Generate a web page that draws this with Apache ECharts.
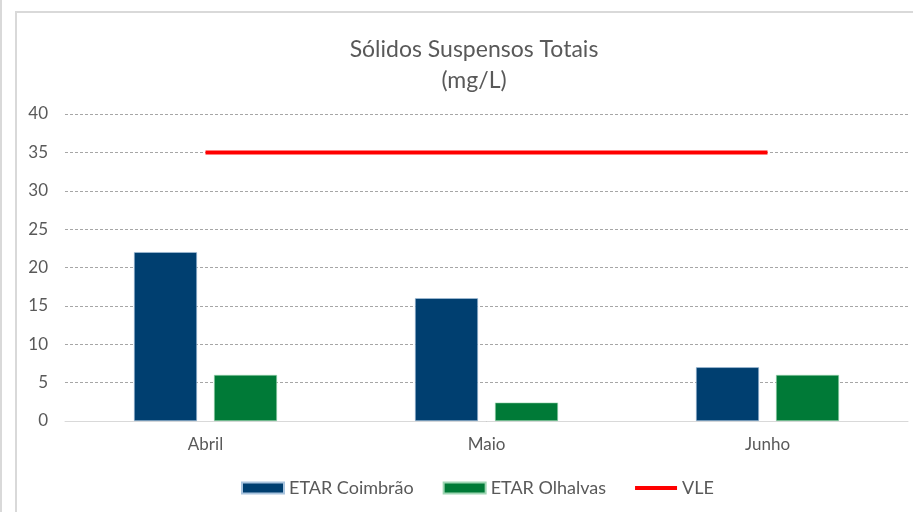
<!DOCTYPE html>
<html>
<head>
<meta charset="utf-8">
<title>Sólidos Suspensos Totais</title>
<script src="https://cdn.jsdelivr.net/npm/echarts@6/dist/echarts.min.js"></script>
<style>
  html, body { margin: 0; padding: 0; background: #fff; }
  #main { width: 913px; height: 512px; }
</style>
</head>
<body>
<div id="main"></div>
<script type="text/javascript">
// dados do grafico
var meses = ['Abril', 'Maio', 'Junho'];
var coimbrao = [22, 16, 7];
var olhalvas = [6, 2.4, 6];
var vle = [35, 35, 35];
var yTicks = [0, 5, 10, 15, 20, 25, 30, 35, 40];

var myChart = echarts.init(document.getElementById('main'));
var fonte = 'Lato, "Open Sans", sans-serif';
var cinza = '#595959';

var option = {
    backgroundColor: '#fff',
    animation: false,
    graphic: [
        // moldura da area do grafico
        { type: 'line', shape: { x1: 1, y1: 0, x2: 1, y2: 512 }, style: { stroke: '#d9d9d9', lineWidth: 2 } },
        { type: 'polyline', shape: { points: [[16, 512], [16, 12], [913, 12]] }, style: { stroke: '#d9d9d9', lineWidth: 2, fill: null } }
    ],
    title: {
        text: 'Sólidos Suspensos Totais\n(mg/L)',
        left: 469,
        textAlign: 'center',
        top: 29,
        textStyle: { fontFamily: fonte, fontSize: 23, fontWeight: 'normal', color: cinza, lineHeight: 31 }
    },
    legend: {
        top: 474,
        left: 236,
        itemGap: 29,
        itemWidth: 42,
        itemHeight: 11,
        textStyle: { fontFamily: fonte, fontSize: 18, color: cinza },
        data: [
            { name: 'ETAR Coimbrão', icon: 'rect' },
            { name: 'ETAR Olhalvas', icon: 'rect' },
            { name: 'VLE', icon: 'path://M0 0 H42 V4 H0 Z' }
        ]
    },
    grid: { left: 65, right: 5, top: 114, bottom: 91 },
    xAxis: {
        type: 'category',
        data: meses,
        axisLine: { lineStyle: { color: '#d9d9d9', width: 1 } },
        axisTick: { show: false },
        axisLabel: { fontFamily: fonte, fontSize: 17, color: cinza, margin: 15 }
    },
    yAxis: {
        type: 'value',
        min: yTicks[0],
        max: yTicks[yTicks.length - 1],
        interval: 5,
        axisLine: { show: false },
        axisTick: { show: false },
        axisLabel: { fontFamily: fonte, fontSize: 17, color: cinza, margin: 17 },
        splitLine: { lineStyle: { color: '#a6a6a6', type: [3, 2], width: 1 } }
    },
    series: [
        {
            name: 'ETAR Coimbrão',
            type: 'bar',
            data: coimbrao,
            barWidth: 63,
            barGap: '27%',
            itemStyle: { color: '#003f70', borderColor: '#a9c4de', borderWidth: 0.6 }
        },
        {
            name: 'ETAR Olhalvas',
            type: 'bar',
            data: olhalvas,
            barWidth: 63,
            barGap: '27%',
            itemStyle: { color: '#007a37', borderColor: '#9fd6b4', borderWidth: 0.6 }
        },
        {
            name: 'VLE',
            type: 'line',
            data: vle,
            symbol: 'none',
            lineStyle: { color: '#ff0000', width: 4 },
            itemStyle: { color: '#ff0000' }
        }
    ]
};
myChart.setOption(option);
</script>
</body>
</html>
